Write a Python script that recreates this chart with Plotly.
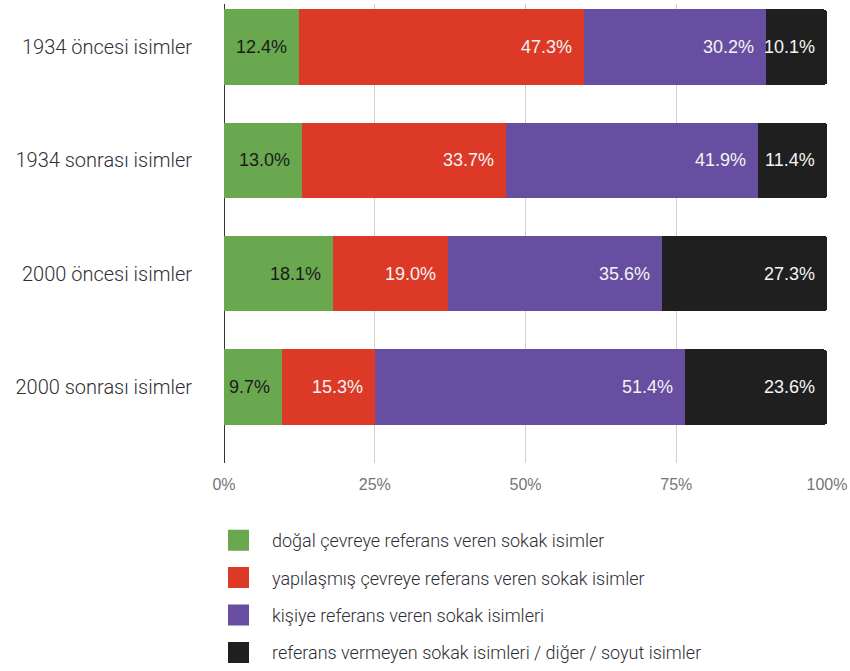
import plotly.graph_objects as go

categories = ["1934 öncesi isimler", "1934 sonrası isimler", "2000 öncesi isimler", "2000 sonrası isimler"]
series_names = [
    "doğal çevreye referans veren sokak isimler",
    "yapılaşmış çevreye referans veren sokak isimler",
    "kişiye referans veren sokak isimleri",
    "referans vermeyen sokak isimleri / diğer / soyut isimler",
]
dogal = [12.4, 13.0, 18.1, 9.7]
yapilasmis = [47.3, 33.7, 19.0, 15.3]
kisi = [30.2, 41.9, 35.6, 51.4]
diger = [10.1, 11.4, 27.3, 23.6]
x_tickvals = [0, 25, 50, 75, 100]
x_ticktext = ["0%", "25%", "50%", "75%", "100%"]

values = [dogal, yapilasmis, kisi, diger]
colors = ["#6aa84f", "#dc3a26", "#674ea0", "#1f1f1f"]
text_colors = ["#1a1a1a", "#f4f4f4", "#f4f4f4", "#f4f4f4"]

label_font = "Roboto, Liberation Sans, Arial, sans-serif"
arial = "Liberation Sans, Arial, sans-serif"

fig = go.Figure()
for name, vals, col in zip(series_names, values, colors):
    fig.add_trace(go.Bar(
        y=categories, x=vals, name=name, orientation="h",
        marker=dict(color=col, line=dict(width=0)),
        showlegend=False, hoverinfo="x+name",
    ))

# legend entries (square swatches)
for i, (name, col) in enumerate(zip(series_names, colors)):
    fig.add_trace(go.Scatter(
        x=[None], y=[None], mode="markers", name=name,
        marker=dict(symbol="square", size=16, color=col, line=dict(color=col, width=5)),
        legendgroup=f"g{i}", showlegend=True,
    ))

annotations = []
for ci, cat in enumerate(categories):
    cum = 0
    for si, vals in enumerate(values):
        cum += vals[ci]
        annotations.append(dict(
            x=cum, y=cat, xref="x", yref="y", text=f"{vals[ci]:.1f}%",
            showarrow=False, xanchor="right", yanchor="middle", xshift=-10,
            font=dict(family=arial, size=18, color=text_colors[si]),
        ))

fig.update_layout(
    width=850, height=671,
    barmode="stack", bargap=0.336, barcornerradius=3,
    plot_bgcolor="white", paper_bgcolor="white",
    margin=dict(l=224, r=23, t=4, b=208, autoexpand=False),
    annotations=annotations,
    showlegend=True,
    legend=dict(
        xref="container", yref="container", x=205 / 850, y=1 - 522 / 671,
        xanchor="left", yanchor="top", orientation="v",
        traceorder="grouped", tracegroupgap=11, itemwidth=57,
        font=dict(family=label_font, size=18, color="#2e2e36", weight=300),
        bgcolor="rgba(0,0,0,0)",
    ),
    xaxis=dict(
        range=[0, 100], tickvals=x_tickvals, ticktext=x_ticktext,
        showgrid=True, gridcolor="#d0d0d0", gridwidth=1,
        zeroline=True, zerolinecolor="#333333", zerolinewidth=1,
        showline=False, ticks="", ticklabelstandoff=10,
        tickfont=dict(family=arial, size=16, color="#757575"),
        fixedrange=True,
    ),
    yaxis=dict(
        type="category", categoryorder="array", categoryarray=categories,
        range=[3.67, -0.38], showgrid=False, zeroline=False, showline=False,
        ticks="", ticklabelstandoff=31,
        tickfont=dict(family=label_font, size=20, color="#2e2e36", weight=300),
        fixedrange=True,
    ),
)

fig.write_html("out.html", config={"displayModeBar": False},
               post_script="document.body.style.margin='0';")
